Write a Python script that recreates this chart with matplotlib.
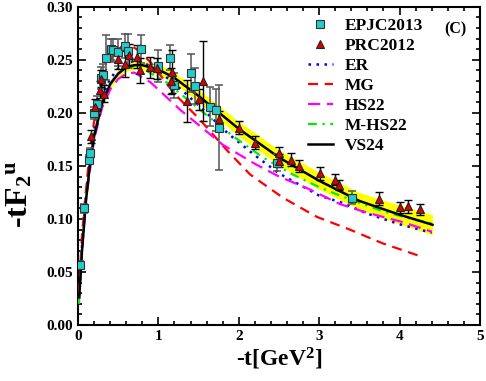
import matplotlib
matplotlib.use("Agg")
import matplotlib.pyplot as plt
from matplotlib.ticker import MultipleLocator, FormatStrFormatter

plt.rcParams['font.family'] = ['Liberation Serif', 'DejaVu Serif']
plt.rcParams['font.weight'] = 'bold'
plt.rcParams['mathtext.fontset'] = 'custom'
plt.rcParams['mathtext.rm'] = 'Liberation Serif:bold'
plt.rcParams['mathtext.it'] = 'Liberation Serif:italic:bold'
plt.rcParams['mathtext.bf'] = 'Liberation Serif:bold'

# ---- data: EPJC2013 (cyan squares) ----
epjc_t = [0.03, 0.072, 0.14, 0.155, 0.195, 0.24, 0.28, 0.31, 0.345, 0.41, 0.44, 0.50,
          0.59, 0.62, 0.78, 1.00, 1.14, 1.19, 1.40, 1.45, 1.64, 1.72, 1.75, 2.47, 3.41]
epjc_f = [0.057, 0.110, 0.156, 0.162, 0.200, 0.208, 0.233, 0.236, 0.252, 0.260, 0.259, 0.257,
          0.263, 0.258, 0.260, 0.244, 0.252, 0.226, 0.238, 0.225, 0.206, 0.203, 0.186, 0.153, 0.120]
epjc_err = [0.003, 0.004, 0.004, 0.005, 0.006, 0.008, 0.010, 0.010, 0.021, 0.010, 0.011, 0.013,
            0.011, 0.016, 0.013, 0.015, 0.012, 0.012, 0.018, 0.017, 0.018, 0.020, 0.040, 0.008, 0.006]

# ---- data: PRC2012 (red triangles) ----
prc_t = [0.167, 0.21, 0.27, 0.29, 0.32, 0.50, 0.59, 0.64, 0.74, 0.775, 0.90, 0.98,
         1.17, 1.16, 1.36, 1.50, 1.56, 1.755, 2.00, 2.20, 2.50, 2.50, 2.645, 2.75,
         3.01, 3.20, 3.25, 3.75, 4.01, 4.10, 4.25]
prc_f = [0.178, 0.206, 0.222, 0.232, 0.218, 0.251, 0.246, 0.255, 0.253, 0.240, 0.243, 0.242,
         0.239, 0.230, 0.211, 0.213, 0.230, 0.194, 0.186, 0.172, 0.162, 0.155, 0.156, 0.150,
         0.143, 0.137, 0.132, 0.119, 0.111, 0.112, 0.109]
prc_err = [0.006, 0.007, 0.008, 0.008, 0.008, 0.010, 0.012, 0.010, 0.011, 0.012, 0.010, 0.010,
           0.020, 0.012, 0.020, 0.010, 0.038, 0.008, 0.006, 0.006, 0.006, 0.006, 0.006, 0.006,
           0.006, 0.005, 0.005, 0.006, 0.005, 0.006, 0.005]

# ---- model curves ----
er_t = [0.01, 0.05, 0.1, 0.2, 0.3, 0.4, 0.5, 0.6, 0.7, 0.8, 1.0, 1.3, 1.6, 1.86, 2.2, 2.5,
        3.0, 3.26, 3.6, 4.0, 4.4]
er_f = [0.02, 0.075, 0.125, 0.185, 0.215, 0.232, 0.242, 0.247, 0.249, 0.248, 0.240, 0.221,
        0.200, 0.181, 0.160, 0.143, 0.122, 0.116, 0.105, 0.095, 0.087]

mg_t = [0.01, 0.05, 0.1, 0.155, 0.23, 0.35, 0.45, 0.55, 0.65, 0.75, 0.9, 1.0, 1.2, 1.5,
        1.85, 2.14, 2.55, 2.97, 3.38, 3.79, 4.29]
mg_f = [0.03, 0.085, 0.128, 0.170, 0.206, 0.241, 0.256, 0.263, 0.264, 0.259, 0.248, 0.238,
        0.218, 0.195, 0.165, 0.142, 0.120, 0.102, 0.090, 0.077, 0.064]

hs_t = [0.01, 0.05, 0.1, 0.2, 0.3, 0.4, 0.5, 0.6, 0.7, 0.9, 1.27, 1.8, 2.2, 2.5, 2.85,
        3.26, 3.59, 4.04, 4.4]
hs_f = [0.02, 0.07, 0.118, 0.175, 0.205, 0.222, 0.232, 0.237, 0.238, 0.229, 0.203, 0.170,
        0.152, 0.140, 0.129, 0.114, 0.106, 0.097, 0.088]

mhs_t = [0.01, 0.05, 0.1, 0.2, 0.3, 0.4, 0.5, 0.6, 0.7, 0.8, 1.1, 1.5, 1.93, 2.3, 2.67,
         3.0, 3.26, 3.8, 4.2, 4.4]
mhs_f = [0.02, 0.073, 0.122, 0.180, 0.210, 0.228, 0.237, 0.242, 0.243, 0.242, 0.229, 0.204,
         0.178, 0.158, 0.142, 0.130, 0.122, 0.107, 0.099, 0.096]

vs_t = [0.015, 0.05, 0.1, 0.15, 0.2, 0.3, 0.4, 0.5, 0.6, 0.7, 0.8, 1.0, 1.2, 1.5, 2.0,
        2.5, 3.0, 3.5, 4.0, 4.41]
vs_f = [0.026, 0.07, 0.118, 0.152, 0.178, 0.209, 0.227, 0.237, 0.243, 0.245, 0.245, 0.241,
        0.233, 0.216, 0.185, 0.158, 0.136, 0.117, 0.104, 0.0945]
vs_band = [0.002, 0.002, 0.003, 0.003, 0.003, 0.004, 0.004, 0.004, 0.004, 0.004, 0.004, 0.005,
           0.005, 0.006, 0.007, 0.007, 0.008, 0.008, 0.009, 0.0095]

fig = plt.figure(figsize=(4.86, 3.81), dpi=100)
ax = fig.add_axes([0.1605, 0.147, 0.827, 0.835])

lo = [f - b for f, b in zip(vs_f, vs_band)]
hi = [f + b for f, b in zip(vs_f, vs_band)]
ax.fill_between(vs_t, lo, hi, color='#ffff00', lw=0, zorder=1)

ax.plot(er_t, er_f, color='#0000ff', ls=(0, (1, 2.2)), lw=1.8, zorder=3, label='ER')
ax.plot(mg_t, mg_f, color='#ff0000', ls=(0, (4.5, 3)), lw=1.6, zorder=3, label='MG')
ax.plot(hs_t, hs_f, color='#ff00ff', ls=(0, (5.5, 3)), lw=1.6, zorder=3, label='HS22')
ax.plot(mhs_t, mhs_f, color='#00ee00', ls=(0, (4, 2.5, 1, 2.5)), lw=1.6, zorder=3, label='M-HS22')
ax.plot(vs_t, vs_f, color='black', ls='-', lw=1.8, zorder=4, label='VS24')

ax.errorbar(epjc_t, epjc_f, yerr=epjc_err, fmt='none', ecolor='#555555', elinewidth=1.1,
            capsize=3, capthick=1.1, zorder=5)
ax.errorbar(prc_t, prc_f, yerr=prc_err, fmt='none', ecolor='black', elinewidth=1.0,
            capsize=3, capthick=1.0, zorder=5)
ax.plot(epjc_t, epjc_f, ls='none', marker='s', ms=5.5, mfc='#22cccc', mec='#333333',
        mew=0.8, zorder=6, label='EPJC2013')
ax.plot(prc_t, prc_f, ls='none', marker='^', ms=5.5, mfc='#dd0000', mec='#222222',
        mew=0.8, zorder=6, label='PRC2012')

handles, labels = ax.get_legend_handles_labels()
order = ['EPJC2013', 'PRC2012', 'ER', 'MG', 'HS22', 'M-HS22', 'VS24']
hmap = dict(zip(labels, handles))
leg = ax.legend([hmap[k] for k in order], order, loc='upper left',
                bbox_to_anchor=(0.572, 0.965), frameon=False,
                handlelength=1.45, handletextpad=0.65, labelspacing=0.22,
                borderaxespad=0.0, borderpad=0.0,
                prop={'weight': 'bold', 'size': 12.5})

ax.text(4.69, 0.279, '(C)', fontsize=11.5, fontweight='bold', ha='center', va='center')

ax.set_xlim(0, 5)
ax.set_ylim(0, 0.30)
ax.xaxis.set_major_locator(MultipleLocator(1))
ax.xaxis.set_minor_locator(MultipleLocator(0.2))
ax.yaxis.set_major_locator(MultipleLocator(0.05))
ax.yaxis.set_minor_locator(MultipleLocator(0.01))
ax.yaxis.set_major_formatter(FormatStrFormatter('%.2f'))
ax.tick_params(which='both', direction='in', top=True, right=True, width=1.2)
ax.tick_params(which='major', length=6, labelsize=11)
ax.tick_params(which='minor', length=3)
for s in ax.spines.values():
    s.set_linewidth(1.5)
for lab in ax.get_xticklabels() + ax.get_yticklabels():
    lab.set_fontweight('bold')

ax.set_xlabel(r'-t[GeV$^{\mathbf{2}}$]', fontsize=17, fontweight='bold', labelpad=2)
ax.set_ylabel(r'-tF$_{\mathbf{2}}$$^{\mathbf{u}}$', fontsize=23, fontweight='bold')
ax.yaxis.set_label_coords(-0.108, 0.41)

fig.savefig('out.png', dpi=100)
